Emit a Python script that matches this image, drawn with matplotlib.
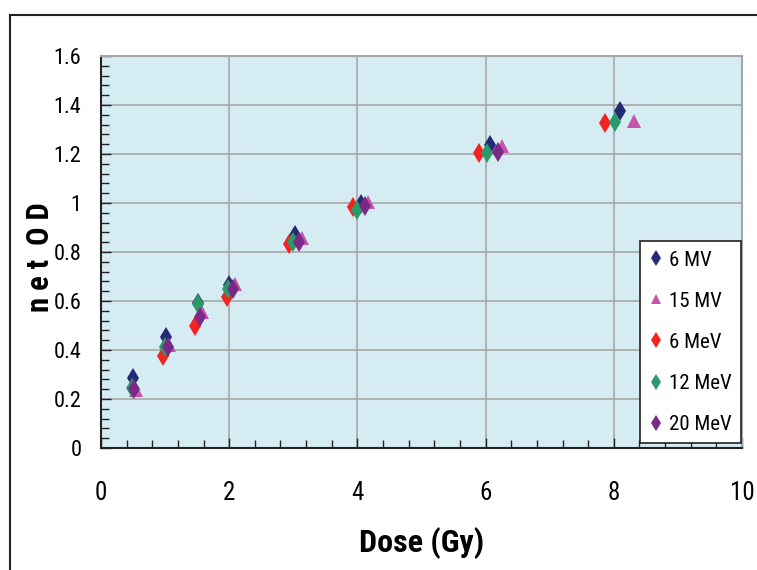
import matplotlib
matplotlib.use("Agg")
import matplotlib.pyplot as plt
from matplotlib.ticker import MultipleLocator
from matplotlib.lines import Line2D
from matplotlib import font_manager

names = set(f.name for f in font_manager.fontManager.ttflist)
cond = [n for n in ['Liberation Sans Narrow', 'DejaVu Sans Condensed', 'Roboto Condensed'] if n in names]
plt.rcParams['font.family'] = cond + ['DejaVu Sans']

# dose (Gy) and net OD
mv6_x = [0.50, 1.02, 1.52, 2.00, 3.03, 4.05, 6.07, 8.10]
mv6_y = [0.284, 0.452, 0.590, 0.665, 0.869, 0.996, 1.237, 1.376]
mv15_x = [0.55, 1.06, 1.57, 2.09, 3.14, 4.17, 6.25, 8.32]
mv15_y = [0.237, 0.420, 0.556, 0.668, 0.856, 1.005, 1.233, 1.336]
mev6_x = [0.97, 1.47, 1.96, 2.93, 3.93, 5.90, 7.86]
mev6_y = [0.377, 0.498, 0.618, 0.834, 0.985, 1.204, 1.325]
mev12_x = [0.48, 1.00, 1.51, 1.98, 3.00, 4.00, 6.02, 8.02]
mev12_y = [0.245, 0.413, 0.587, 0.648, 0.841, 0.970, 1.204, 1.332]
mev20_x = [0.51, 1.04, 1.55, 2.06, 3.09, 4.12, 6.19]
mev20_y = [0.240, 0.413, 0.536, 0.649, 0.841, 0.989, 1.209]

labels = ['6 MV', '15 MV', '6 MeV', '12 MeV', '20 MeV']
colors = ['#242a74', '#c455aa', '#f52222', '#2a9a68', '#7a2a86']
markers = ['d', '^', 'd', 'd', 'd']

fig = plt.figure(figsize=(7.57, 5.70), dpi=100)
ax = fig.add_axes([101/757, 1-448/570, (742-101)/757, (448-56)/570])
ax.set_facecolor('#d5ecf3')

series = [(mv6_x, mv6_y), (mv15_x, mv15_y), (mev6_x, mev6_y), (mev12_x, mev12_y), (mev20_x, mev20_y)]
for (xs, ys), lab, c, m in zip(series, labels, colors, markers):
    ax.plot(xs, ys, linestyle='none', marker=m, color=c, markersize=10,
            markeredgewidth=0, label=lab, zorder=3)

ax.set_xlim(0, 10)
ax.set_ylim(0, 1.6)
ax.xaxis.set_major_locator(MultipleLocator(2))
ax.xaxis.set_minor_locator(MultipleLocator(0.4))
ax.yaxis.set_major_locator(MultipleLocator(0.2))
ax.yaxis.set_minor_locator(MultipleLocator(0.04))
ax.set_yticks([0, 0.2, 0.4, 0.6, 0.8, 1.0, 1.2, 1.4, 1.6])
ax.set_yticklabels(['0', '0.2', '0.4', '0.6', '0.8', '1', '1.2', '1.4', '1.6'])
ax.grid(True, which='major', color='#a8a8a8', linewidth=1.2, zorder=0)
ax.set_axisbelow(True)

ax.tick_params(which='both', direction='in', color='#222222', width=1)
ax.tick_params(which='major', length=7)
ax.tick_params(which='minor', length=6)
ax.tick_params(axis='x', pad=24, labelsize=18)
ax.tick_params(axis='y', pad=14, labelsize=16)

for s in ['left', 'bottom']:
    ax.spines[s].set_color('#222222')
    ax.spines[s].set_linewidth(1.5)
for s in ['top', 'right']:
    ax.spines[s].set_color('#a8a8a8')
    ax.spines[s].set_linewidth(1.5)

ax.set_xlabel('Dose (Gy)', fontsize=23, fontweight='bold', labelpad=16)
ax.set_ylabel('n e t  O D', fontsize=22, fontweight='bold')
ax.yaxis.set_label_coords(-0.071, 0.487)

handles = [Line2D([], [], linestyle='none', marker=m, color=c, markersize=8 if m == 'd' else 7,
                  markeredgewidth=0) for m, c in zip(markers, colors)]
leg = ax.legend(handles, labels, loc='lower right', bbox_to_anchor=(0.999, 0.012),
                fontsize=15, frameon=True, fancybox=False, framealpha=1,
                edgecolor='#222222', handlelength=0.6, handletextpad=0.35,
                labelspacing=1.06, borderpad=0.45, borderaxespad=0)
leg.get_frame().set_linewidth(1.2)

# outer frame lines (left and top)
fig.add_artist(Line2D([10/757, 10/757], [0, 1-15/570], color='#222222', linewidth=1.5))
fig.add_artist(Line2D([10/757, 1], [1-15/570, 1-15/570], color='#222222', linewidth=1.5))

fig.savefig('out.png', dpi=100)
